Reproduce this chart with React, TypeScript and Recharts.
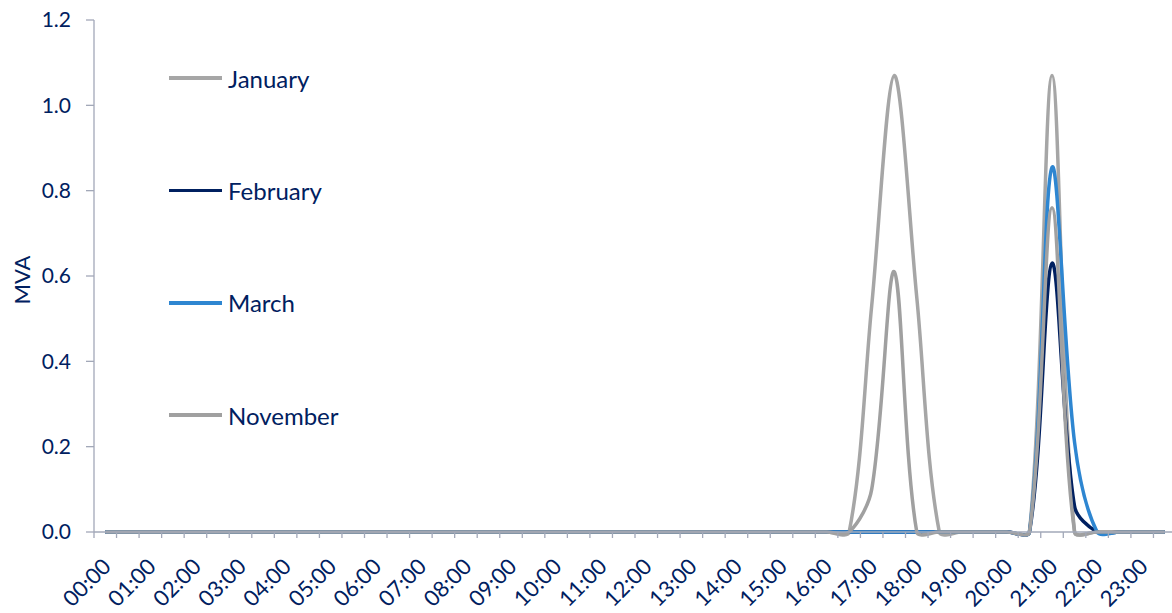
import { Line, LineChart, XAxis, YAxis } from "recharts";

// half-hour categories, label shown on the hour
const hours = [
    "00:00", "01:00", "02:00", "03:00", "04:00", "05:00", "06:00", "07:00",
    "08:00", "09:00", "10:00", "11:00", "12:00", "13:00", "14:00", "15:00",
    "16:00", "17:00", "18:00", "19:00", "20:00", "21:00", "22:00", "23:00",
];
const times = hours.flatMap((h) => [h, h.slice(0, 3) + "30"]);

const january = [
    0, 0, 0, 0, 0, 0, 0, 0, 0, 0, 0, 0, 0, 0, 0, 0,
    0, 0, 0, 0, 0, 0, 0, 0, 0, 0, 0, 0, 0, 0, 0, 0,
    0, 0, 0.53, 1.07, 0.55, 0, 0, 0, 0, 0, 1.07, 0, 0, 0, 0, 0,
];
const february = [
    0, 0, 0, 0, 0, 0, 0, 0, 0, 0, 0, 0, 0, 0, 0, 0,
    0, 0, 0, 0, 0, 0, 0, 0, 0, 0, 0, 0, 0, 0, 0, 0,
    0, 0, 0, 0, 0, 0, 0, 0, 0, 0, 0.63, 0.06, 0, 0, 0, 0,
];
const march = [
    0, 0, 0, 0, 0, 0, 0, 0, 0, 0, 0, 0, 0, 0, 0, 0,
    0, 0, 0, 0, 0, 0, 0, 0, 0, 0, 0, 0, 0, 0, 0, 0,
    0, 0, 0, 0, 0, 0, 0, 0, 0, 0, 0.855, 0.21, 0, 0, 0, 0,
];
const november = [
    0, 0, 0, 0, 0, 0, 0, 0, 0, 0, 0, 0, 0, 0, 0, 0,
    0, 0, 0, 0, 0, 0, 0, 0, 0, 0, 0, 0, 0, 0, 0, 0,
    0, 0, 0.1, 0.61, 0, 0, 0, 0, 0, 0, 0.76, 0, 0, 0, 0, 0,
];
const yTicks = [0, 0.2, 0.4, 0.6, 0.8, 1.0, 1.2];

const series = [
    { name: "January", key: "jan", color: "#A6A6A6" },
    { name: "February", key: "feb", color: "#002060" },
    { name: "March", key: "mar", color: "#2E86D1" },
    { name: "November", key: "nov", color: "#A0A0A0" },
];

const data = times.map((t, i) => ({
    x: i,
    time: t,
    jan: january[i],
    feb: february[i],
    mar: march[i],
    nov: november[i],
}));

const textColor = "#002060";
const axisColor = "#A2A8B8";
const font = "Lato, 'Open Sans', sans-serif";

// ticks at category edges (marks) and centres (labels)
const xTicks: number[] = [];
for (let v = -0.5; v <= 47.5; v += 0.5) xTicks.push(v);

// smoothing close to Excel's: bezier handles scaled by chord length
function excelSmooth(context: any) {
    let pts: number[][] = [];
    return {
        areaStart() {},
        areaEnd() {},
        lineStart() { pts = []; },
        point(x: number, y: number) { pts.push([+x, +y]); },
        lineEnd() {
            const n = pts.length;
            if (!n) return;
            const dist = (a: number[], b: number[]) => Math.hypot(b[0] - a[0], b[1] - a[1]);
            const handles = pts.map((p, i) => {
                const prev = pts[Math.max(i - 1, 0)];
                const next = pts[Math.min(i + 1, n - 1)];
                const l0 = dist(prev, p), l1 = dist(p, next);
                const s = l0 + l1 || 1;
                const dx = next[0] - prev[0], dy = next[1] - prev[1];
                const t = 0.32;
                return {
                    inX: p[0] - dx * t * l0 / s, inY: p[1] - dy * t * l0 / s,
                    outX: p[0] + dx * t * l1 / s, outY: p[1] + dy * t * l1 / s,
                };
            });
            context.moveTo(pts[0][0], pts[0][1]);
            for (let i = 0; i < n - 1; i++) {
                context.bezierCurveTo(handles[i].outX, handles[i].outY, handles[i + 1].inX, handles[i + 1].inY, pts[i + 1][0], pts[i + 1][1]);
            }
        },
    };
}

function TimeTick(props: any) {
    const { x, y, payload } = props;
    const v = payload.value;
    if (Math.abs(v % 1) === 0.5) {
        return <line x1={x} y1={y} x2={x} y2={y + 6} stroke={axisColor} strokeWidth={1.3} />;
    }
    if (v % 2 !== 0) return <g />;
    const tx = x + 1;
    const ty = y + 30;
    return (
        <text x={tx} y={ty} transform={`rotate(-45 ${tx} ${ty})`} textAnchor="end" dominantBaseline="central"
            fill={textColor} fontSize={22} fontFamily={font}>
            {times[v]}
        </text>
    );
}

export default function App() {
    return (
        <div style={{ position: "absolute", left: 0, top: 0, width: 1172, height: 613, overflow: "hidden", background: "#fff" }}>
            <LineChart width={1180} height={613} data={data} margin={{ top: 20, right: 4, bottom: 0, left: 0 }}>
                <XAxis dataKey="x" type="number" domain={[-0.5, 47.5]} ticks={xTicks} interval={0}
                    height={81} tickSize={0} tickMargin={0} tickLine={false}
                    axisLine={{ stroke: axisColor, strokeWidth: 1.3 }} tick={<TimeTick />} />
                <YAxis domain={[0, 1.2]} ticks={yTicks} width={94} interval={0}
                    tickFormatter={(v: number) => v.toFixed(1)} tickSize={8} tickMargin={15}
                    axisLine={{ stroke: axisColor, strokeWidth: 1.3 }} tickLine={{ stroke: axisColor, strokeWidth: 1.3 }}
                    tick={{ fill: textColor, fontSize: 21, fontFamily: font }}
                    label={{
                        content: (p: any) => {
                            const cx = p.viewBox.x + 21;
                            const cy = p.viewBox.y + p.viewBox.height / 2 + 4;
                            return (
                                <text x={cx} y={cy} transform={`rotate(-90 ${cx} ${cy})`} textAnchor="middle"
                                    dominantBaseline="central" fill={textColor} fontSize={22} fontFamily={font}>
                                    MVA
                                </text>
                            );
                        },
                    }} />
                {series.map((s) => (
                    <Line key={s.key} dataKey={s.key} name={s.name} type={excelSmooth as any} stroke={s.color}
                        strokeWidth={3.5} dot={false} activeDot={false} isAnimationActive={false} />
                ))}
            </LineChart>
            <div style={{ position: "absolute", left: 169, top: 62, fontFamily: font, fontSize: 24, color: textColor }}>
                {series.map((s) => (
                    <div key={s.key} style={{ height: 112.4, display: "flex", alignItems: "flex-start" }}>
                        <div style={{ display: "flex", alignItems: "center", height: 32 }}>
                            <div style={{ width: 53, height: 3.5, background: s.color, marginRight: 6 }} />
                            <span>{s.name}</span>
                        </div>
                    </div>
                ))}
            </div>
        </div>
    );
}
